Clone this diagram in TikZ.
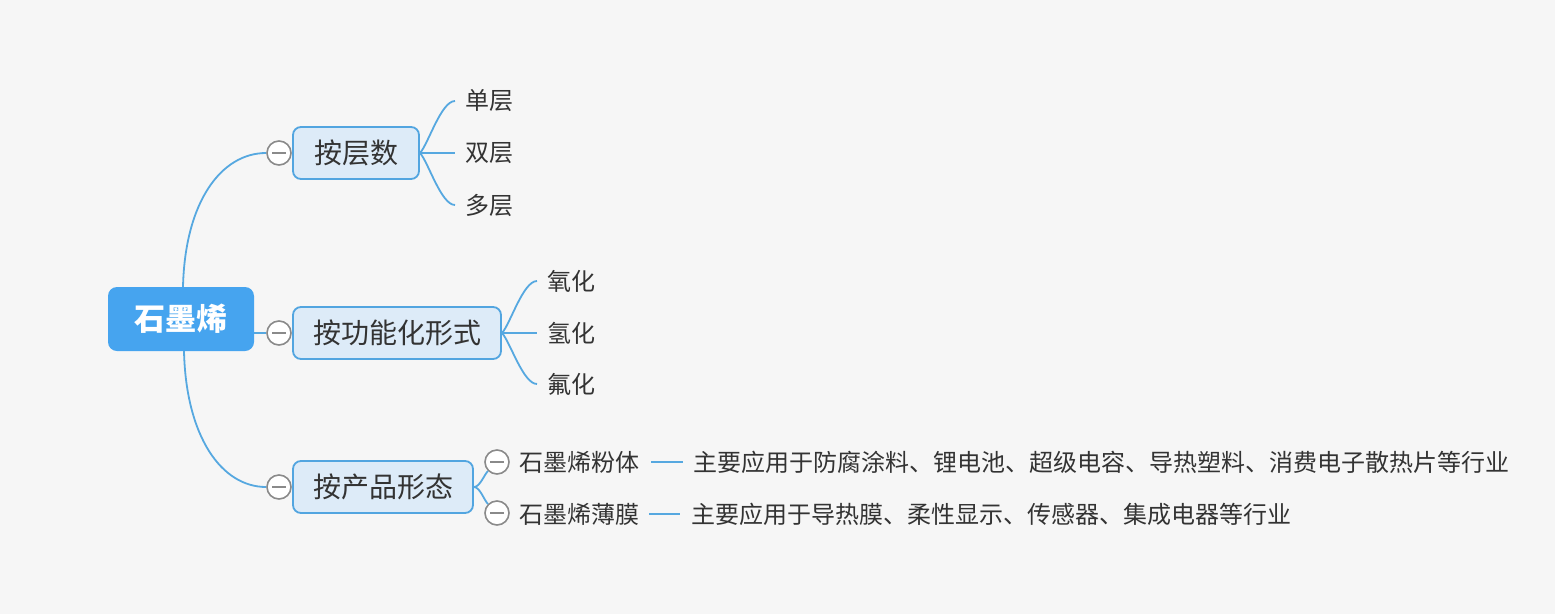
\documentclass[tikz,border=0pt]{standalone}
\usepackage{fontspec}
\setmainfont{Noto Sans CJK SC}
\newfontfamily\cjk{Noto Sans CJK SC}
\definecolor{bgc}{HTML}{F6F6F6}
\definecolor{linec}{HTML}{56A8E0}
\definecolor{rootc}{HTML}{46A4EF}
\definecolor{boxf}{HTML}{DDEBF8}
\definecolor{boxd}{HTML}{52A5E0}
\definecolor{txt}{HTML}{333333}
\definecolor{circd}{HTML}{8A8A8A}
\begin{document}
\begin{tikzpicture}[x=1pt,y=-1pt,
  rootbox/.style={fill=rootc,rounded corners=9pt,minimum width=146pt,minimum height=64pt,inner sep=0pt,text=white,font=\cjk\bfseries\fontsize{31}{36}\selectfont},
  topicbox/.style={fill=boxf,draw=boxd,line width=1.8pt,rounded corners=8pt,minimum height=52pt,inner sep=0pt,text=txt,font=\cjk\fontsize{28}{32}\selectfont},
  leaf/.style={anchor=west,inner sep=0pt,text=txt,font=\cjk\fontsize{24}{28}\selectfont},
  foldc/.style={circle,draw=circd,fill=white,line width=1.6pt,minimum size=24pt,inner sep=0pt,
    path picture={\draw[circd,line width=1.6pt] ([xshift=-7pt]path picture bounding box.center) -- ([xshift=7pt]path picture bounding box.center);}},
  conn/.style={draw=linec,line width=1.8pt}
]
\useasboundingbox[fill=bgc] (0,0) rectangle (1555,614);

% root
\node[rootbox] (root) at (181,319) {石墨烯};

% topics
\node[topicbox,minimum width=126pt] (t1) at (356,153) {按层数};
\node[topicbox,minimum width=208pt] (t2) at (397,333) {按功能化形式};
\node[topicbox,minimum width=180pt] (t3) at (383,487) {按产品形态};

% fold circles
\node[foldc] (c1) at (279,153) {};
\node[foldc] (c2) at (279,333) {};
\node[foldc] (c3) at (279,487) {};

% root connectors
\draw[conn] ([xshift=2pt]root.north) .. controls +(2,-85) and +(-45,0) .. (c1.west);
\draw[conn] (root.east |- c2.west) -- (c2.west);
\draw[conn] ([xshift=3pt]root.south) .. controls +(2,85) and +(-45,0) .. (c3.west);

% leaves of t1
\node[leaf] (l11) at (465,101) {单层};
\node[leaf] (l12) at (465,153) {双层};
\node[leaf] (l13) at (465,205) {多层};
\coordinate (e11) at (455,101);
\coordinate (e12) at (455,153);
\coordinate (e13) at (455,205);
\draw[conn] (t1.east) .. controls +(8,-8) and +(-14,0) .. (e11);
\draw[conn] (t1.east) -- (e12);
\draw[conn] (t1.east) .. controls +(8,8) and +(-14,0) .. (e13);

% leaves of t2
\node[leaf] (l21) at (547,281) {氧化};
\node[leaf] (l22) at (547,333) {氢化};
\node[leaf] (l23) at (547,384) {氟化};
\coordinate (e21) at (537,281);
\coordinate (e22) at (537,333);
\coordinate (e23) at (537,384);
\draw[conn] (t2.east) .. controls +(8,-8) and +(-14,0) .. (e21);
\draw[conn] (t2.east) -- (e22);
\draw[conn] (t2.east) .. controls +(8,8) and +(-14,0) .. (e23);

% t3 children
\node[foldc] (cp1) at (497,462) {};
\node[foldc] (cp2) at (497,513) {};
\draw[conn] (t3.east) .. controls +(6,0) and +(-4,4) .. (cp1.south west);
\draw[conn] (t3.east) .. controls +(6,0) and +(-4,-4) .. (cp2.north west);
\node[leaf] (p1) at (519,462) {石墨烯粉体};
\node[leaf] (p2) at (519,514) {石墨烯薄膜};
\node[leaf] (d1) at (693,462) {主要应用于防腐涂料、锂电池、超级电容、导热塑料、消费电子散热片等行业};
\node[leaf] (d2) at (691,514) {主要应用于导热膜、柔性显示、传感器、集成电器等行业};
\draw[conn] ([xshift=12pt]p1.east) -- ([xshift=-10pt]d1.west);
\draw[conn] ([xshift=10pt]p2.east) -- ([xshift=-11pt]d2.west);
\end{tikzpicture}
\end{document}
